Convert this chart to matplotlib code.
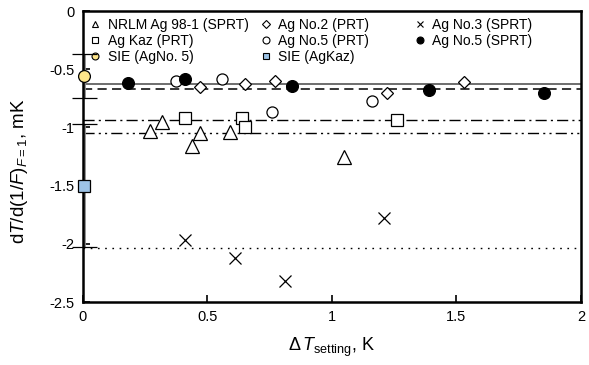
import numpy as np
import matplotlib
matplotlib.use('Agg')
import matplotlib.pyplot as plt
from matplotlib.lines import Line2D

plt.rcParams['font.family'] = ['Liberation Sans', 'DejaVu Sans']
plt.rcParams['mathtext.fontset'] = 'custom'
plt.rcParams['mathtext.rm'] = 'Liberation Sans'
plt.rcParams['mathtext.it'] = 'Liberation Sans:italic'
plt.rcParams['axes.unicode_minus'] = False

# data
nrlm_x = [0.27, 0.32, 0.44, 0.47, 0.59, 1.05]
nrlm_y = [-1.03, -0.95, -1.16, -1.05, -1.04, -1.25]

kaz_x = [0.41, 0.64, 0.65, 1.26]
kaz_y = [-0.92, -0.92, -1.00, -0.94]

no2_x = [0.47, 0.65, 0.77, 1.22, 1.53]
no2_y = [-0.65, -0.63, -0.60, -0.70, -0.61]

no5prt_x = [0.375, 0.56, 0.76, 1.16]
no5prt_y = [-0.60, -0.58, -0.87, -0.77]

no3_x = [0.41, 0.61, 0.81, 1.21]
no3_y = [-1.97, -2.12, -2.32, -1.78]

no5sprt_x = [0.18, 0.41, 0.84, 1.39, 1.85]
no5sprt_y = [-0.62, -0.58, -0.64, -0.68, -0.70]

sie_x = 0.006
sie5_y, sie5_err = -0.56, 0.19
siekaz_y, siekaz_err = -1.50, 0.53

ref_levels = [-0.63, -0.67, -0.94, -1.05, -2.04]

fig = plt.figure(figsize=(5.89, 3.65), dpi=100)
ax = fig.add_axes([0.1404, 0.1726, 0.846, 0.797])

# reference lines
ax.axhline(ref_levels[0], color='#555555', lw=1.2, zorder=1)
ax.axhline(ref_levels[1], color='black', lw=1.1, dashes=(6, 3.5), zorder=1)
ax.axhline(ref_levels[2], color='black', lw=1.0, dashes=(8, 3, 1.5, 3), zorder=1)
ax.axhline(ref_levels[3], color='black', lw=1.0, dashes=(8, 3, 1.5, 3, 1.5, 3), zorder=1)
ax.axhline(ref_levels[4], color='black', lw=1.0, dashes=(1.2, 4), zorder=1)

mk = dict(ls='none', mec='black', mew=0.9, zorder=3)
ax.plot(nrlm_x, nrlm_y, marker='^', ms=9.5, mfc='white', **mk)
ax.plot(kaz_x, kaz_y, marker='s', ms=8.5, mfc='white', **mk)
ax.plot(no2_x, no2_y, marker='D', ms=6.5, mfc='white', **mk)
ax.plot(no5prt_x, no5prt_y, marker='o', ms=8, mfc='white', **mk)
ax.plot(no3_x, no3_y, marker='x', ms=9, color='black', ls='none', mew=0.9, zorder=3)
ax.plot(no5sprt_x, no5sprt_y, marker='o', ms=8.5, mfc='black', **mk)

# SIE points with error bars at x = 0
for yv, err, m, fc in [(sie5_y, sie5_err, 'o', '#FFE68A'), (siekaz_y, siekaz_err, 's', '#9DC3E6')]:
    eb = ax.errorbar([sie_x], [yv], yerr=[err], fmt=m, ms=8.5, mfc=fc, mec='black', mew=0.9,
                     ecolor='#8a8a8a', elinewidth=2, capsize=9, capthick=2, zorder=4)
    for c in eb[1]:
        c.set_markeredgecolor('black')
        c.set_clip_on(False)
        c.set_zorder(7)
    eb[0].set_clip_on(False)
    eb[0].set_zorder(8)
    for c in eb[2]:
        c.set_clip_on(False)

ax.set_xlim(0, 2)
ax.set_ylim(-2.5, 0)
ax.set_xticks([0, 0.5, 1, 1.5, 2])
ax.set_xticklabels(['0', '0.5', '1', '1.5', '2'])
ax.set_yticks([0, -0.5, -1, -1.5, -2, -2.5])
ax.set_yticklabels(['0', '-0.5', '-1', '-1.5', '-2', '-2.5'])
ax.tick_params(direction='in', length=5, width=1.2, labelsize=10.5, pad=6)
for s in ax.spines.values():
    s.set_linewidth(1.8)
    s.set_zorder(5)

ax.set_xlabel(r'$\Delta\,\mathit{T}_{\mathrm{setting}}$, K', fontsize=13, labelpad=8)
ax.set_ylabel(r'd$\mathit{T}$/d(1/$\mathit{F})_{\mathit{F}=1}$, mK', fontsize=13.5)
ax.yaxis.set_label_coords(-0.105, 0.45)

# legend, three columns placed separately
def h(m, fc, ms=5):
    if m == 'x':
        return Line2D([], [], ls='none', marker='x', color='black', ms=ms, mew=0.8)
    return Line2D([], [], ls='none', marker=m, mfc=fc, mec='black', ms=ms, mew=0.8)

cols = [
    ([h('^', 'white'), h('s', 'white'), h('o', '#FFE68A')],
     ['NRLM Ag 98-1 (SPRT)', 'Ag Kaz (PRT)', 'SIE (AgNo. 5)'], 0.0),
    ([h('D', 'white', 4), h('o', 'white'), h('s', '#9DC3E6')],
     ['Ag No.2 (PRT)', 'Ag No.5 (PRT)', 'SIE (AgKaz)'], 0.342),
    ([h('x', 'white'), h('o', 'black')],
     ['Ag No.3 (SPRT)', 'Ag No.5 (SPRT)'], 0.651),
]
legs = []
for hs, ls, x0 in cols:
    leg = ax.legend(hs, ls, loc='upper left', bbox_to_anchor=(x0, 1.0), frameon=False,
                    fontsize=10, handlelength=0.8, handletextpad=0.5, labelspacing=0.15,
                    borderaxespad=0.2, borderpad=0.3)
    legs.append(leg)
for leg in legs[:-1]:
    ax.add_artist(leg)

fig.savefig('out.png', dpi=100)
